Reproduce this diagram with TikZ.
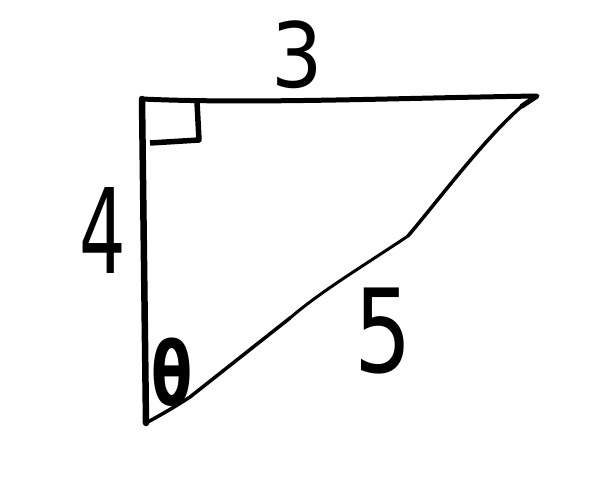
\documentclass[tikz,border=0pt]{standalone}
\usepackage{fontspec}
\setmainfont{DejaVu Sans}
\begin{document}
\begin{tikzpicture}[x=1pt,y=-1pt,
  leg/.style={line width=6.5pt,line cap=round,line join=round},
  hyp/.style={line width=3pt,line cap=round},
  side label/.style={inner sep=0pt}]
   \useasboundingbox (0,0) rectangle (598,493);
   % corners
   \coordinate (A) at (146,423);
   \coordinate (B) at (142,99);
   \coordinate (C) at (537,96);
   % sides
   \draw[leg] (A) -- (B);
   \draw[line width=5pt,line cap=round,line join=round] (B)
     .. controls (250,104) and (400,98) .. (C) -- (522,106);
   \draw[line width=3.5pt,line cap=round] (522,106)
     .. controls (485,138) and (440,198) .. (408,236);
   \draw[hyp] (408,236) .. controls (360,268) and (320,292) .. (290,318);
   \draw[line width=3.5pt,line cap=round] (290,318) -- (190,397)
     .. controls (170,410) and (155,418) .. (A);
   % right angle
   \draw[line width=5.5pt,line join=round] (150,143) -- (199,140) -- (197,102);
   % labels
   \node[side label,font=\fontsize{90}{90}\selectfont,xscale=.9] (three) at (297,55) {3};
   \node[side label,font=\fontsize{118}{118}\selectfont,xscale=.62] (four) at (103,230) {4};
   \node[side label,font=\fontsize{116}{116}\selectfont,xscale=.78] (five) at (383,331) {5};
   \node[side label,font=\fontsize{88}{88}\selectfont\bfseries,xscale=.68] (theta) at (172,372) {θ};
  \end{tikzpicture}
\end{document}
